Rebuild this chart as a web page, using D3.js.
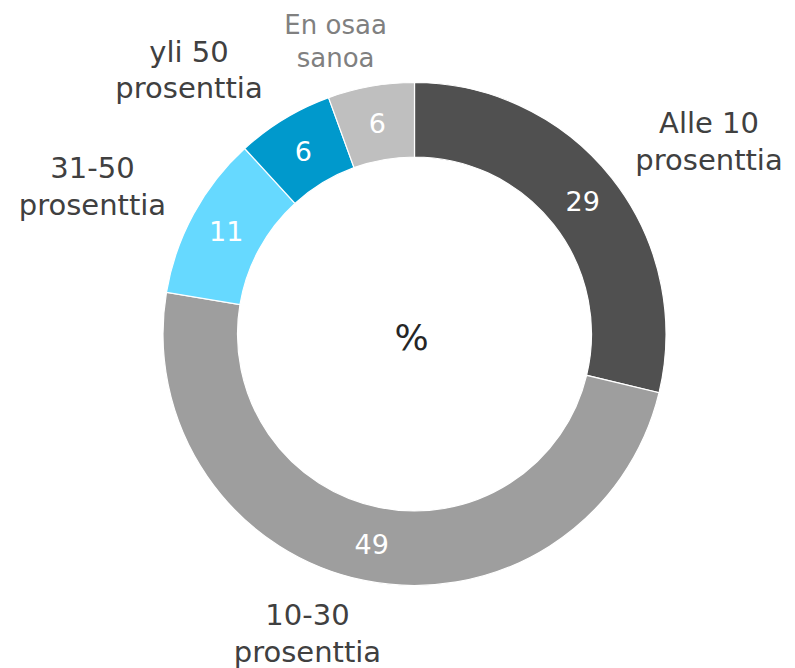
<!DOCTYPE html>
<html>
<head>
<meta charset="utf-8">
<script src="https://cdn.jsdelivr.net/npm/d3@7"></script>
<style>
  html, body { margin: 0; padding: 0; background: #fff; }
  svg { display: block; }
</style>
</head>
<body>
<svg id="chart" width="795" height="668"></svg>
<script>
// ---- data ----
const categories = ["Alle 10 prosenttia", "10-30 prosenttia", "31-50 prosenttia", "yli 50 prosenttia", "En osaa sanoa"];
const labelLines = [["Alle 10", "prosenttia"], ["10-30", "prosenttia"], ["31-50", "prosenttia"], ["yli 50", "prosenttia"], ["En osaa", "sanoa"]];
// shares (labels show rounded values)
const values = [28.75, 48.9, 10.55, 6.25, 5.55];
const colors = ["#505050", "#9e9e9e", "#66d9ff", "#0099cc", "#bfbfbf"];
const centerLabel = "%";

// ---- layout (label placement, polar: radius, angle from top in degrees) ----
const labelPolar = [[352, 56.8], [317.6, 199.7], [354.2, 294.6], [347.2, 319.5], [303, 344.9]];
const labelStyle = [
  {size: 29, lh: 37.5, color: "#404040"},
  {size: 29, lh: 37, color: "#404040"},
  {size: 29, lh: 37, color: "#404040"},
  {size: 29, lh: 36.6, color: "#404040"},
  {size: 26, lh: 32.4, color: "#808080"}
];

const cx = 414.5, cy = 334;
const rOuter = 251.5, rInner = 177;

const svg = d3.select("#chart");
const g = svg.append("g").attr("transform", `translate(${cx},${cy})`);

const pie = d3.pie().sort(null).value(d => d);
const arcs = pie(values);
const arc = d3.arc().innerRadius(rInner).outerRadius(rOuter);

g.selectAll("path.slice")
  .data(arcs)
  .enter().append("path")
  .attr("class", "slice")
  .attr("d", arc)
  .attr("fill", (d, i) => colors[i])
  .attr("stroke", "#ffffff")
  .attr("stroke-width", 1.2);

// value labels
g.selectAll("text.val")
  .data(arcs)
  .enter().append("text")
  .attr("class", "val")
  .attr("transform", d => `translate(${arc.centroid(d)})`)
  .attr("text-anchor", "middle")
  .attr("dy", "0.36em")
  .attr("font-family", "'DejaVu Sans', Verdana, sans-serif")
  .attr("font-size", 27)
  .attr("fill", "#ffffff")
  .text(d => d3.format(".0f")(d.data));

// category labels
arcs.forEach((d, i) => {
  const [r, deg] = labelPolar[i];
  const a = deg * Math.PI / 180;
  const x = r * Math.sin(a), y = -r * Math.cos(a);
  const st = labelStyle[i];
  const lines = labelLines[i];
  const t = g.append("text")
    .attr("text-anchor", "middle")
    .attr("font-family", "'DejaVu Sans', Verdana, sans-serif")
    .attr("font-size", st.size)
    .attr("fill", st.color);
  lines.forEach((ln, k) => {
    t.append("tspan")
      .attr("x", x)
      .attr("y", y + (k - (lines.length - 1) / 2) * st.lh)
      .attr("dy", "0.35em")
      .text(ln);
  });
});

// center label
g.append("text")
  .attr("text-anchor", "middle")
  .attr("x", -3)
  .attr("y", 16)
  .attr("font-family", "'DejaVu Sans', Verdana, sans-serif")
  .attr("font-size", 36)
  .attr("fill", "#262626")
  .text(centerLabel);
</script>
</body>
</html>
